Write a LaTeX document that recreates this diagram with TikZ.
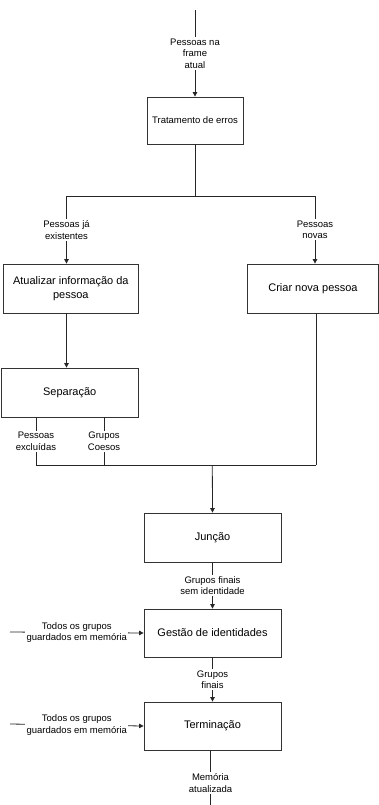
\documentclass[tikz,border=0pt]{standalone}
\usepackage{fontspec}
\setmainfont{Liberation Sans}
\usetikzlibrary{arrows.meta}
\begin{document}
\begin{tikzpicture}[x=1pt,y=-1pt,
  line/.style={draw=black!85,line width=0.8pt},
  arr/.style={line,-{Triangle[length=4.5pt,width=4.5pt]}},
  box/.style={draw=black!80,line width=0.8pt,fill=white,align=center,inner sep=2pt,
    font=\fontsize{11}{13.5}\selectfont},
  lbl/.style={fill=white,align=center,inner sep=1.5pt,
    font=\fontsize{9.5}{11.5}\selectfont}]
\useasboundingbox (0,0) rectangle (379,805);

% processing boxes
\node[box,minimum width=96pt,minimum height=47pt,font=\fontsize{9.5}{11.5}\selectfont]
  (trat) at (195,120.5) {Tratamento de erros};
\node[box,minimum width=135pt,minimum height=49pt] (atual) at (70.8,288.5)
  {Atualizar informação da\\pessoa};
\node[box,minimum width=131pt,minimum height=49pt] (criar) at (313,288.5)
  {Criar nova pessoa};
\node[box,minimum width=137pt,minimum height=49pt] (sep) at (69.7,392.5)
  {Separação};
\node[box,minimum width=137pt,minimum height=49pt] (junc) at (212.5,537.5)
  {Junção};
\node[box,minimum width=137pt,minimum height=48pt] (gest) at (212.5,633)
  {Gestão de identidades};
\node[box,minimum width=137pt,minimum height=48pt] (term) at (212.5,726)
  {Terminação};

% free ends and junction points
\coordinate (in) at (195,10);
\coordinate (split) at (195,196);
\coordinate (splitL) at (66.5,196);
\coordinate (splitR) at (315,196);
\coordinate (exc) at (36,465);
\coordinate (coe) at (104,465);
\coordinate (crj) at (316,465);
\coordinate (join) at (212.3,465);
\coordinate (memL) at (10,632);
\coordinate (memL2) at (10,724);
\coordinate (out) at (210.5,814);

% input frame
\draw[arr] (in) -- node[lbl]{Pessoas na\\frame\\atual} (trat.north);

% split after error handling
\draw[line] (trat.south) -- (split);
\draw[line] (splitL) -- (splitR);
\draw[arr] (splitL) -- node[lbl]{Pessoas já\\existentes} (splitL |- atual.north);
\draw[arr] (splitR) -- node[lbl]{Pessoas\\novas} (splitR |- criar.north);

\draw[arr] (splitL |- atual.south) -- (splitL |- sep.north);

% outputs of separation and new persons
\draw[line] (exc |- sep.south) -- node[lbl]{Pessoas\\excluídas} (exc);
\draw[line] (coe |- sep.south) -- node[lbl]{Grupos\\Coesos} (coe);
\draw[line] (crj |- criar.south) -- (crj);
\draw[line] (exc) -- (crj);
\draw[arr] (join) -- (junc.north);

% identity management chain
\draw[arr] (junc.south) -- node[lbl]{Grupos finais\\sem identidade} (gest.north);
\draw[arr] (memL) -- node[lbl]{Todos os grupos\\guardados em memória} (gest.west);
\draw[arr] (gest.south) -- node[lbl]{Grupos\\finais} (term.north);
\draw[arr] (memL2) -- node[lbl]{Todos os grupos\\guardados em memória} (term.west);
\draw[arr] (term.south -| out) -- node[lbl,yshift=-1pt]{Memória\\atualizada} (out);
\end{tikzpicture}
\end{document}
